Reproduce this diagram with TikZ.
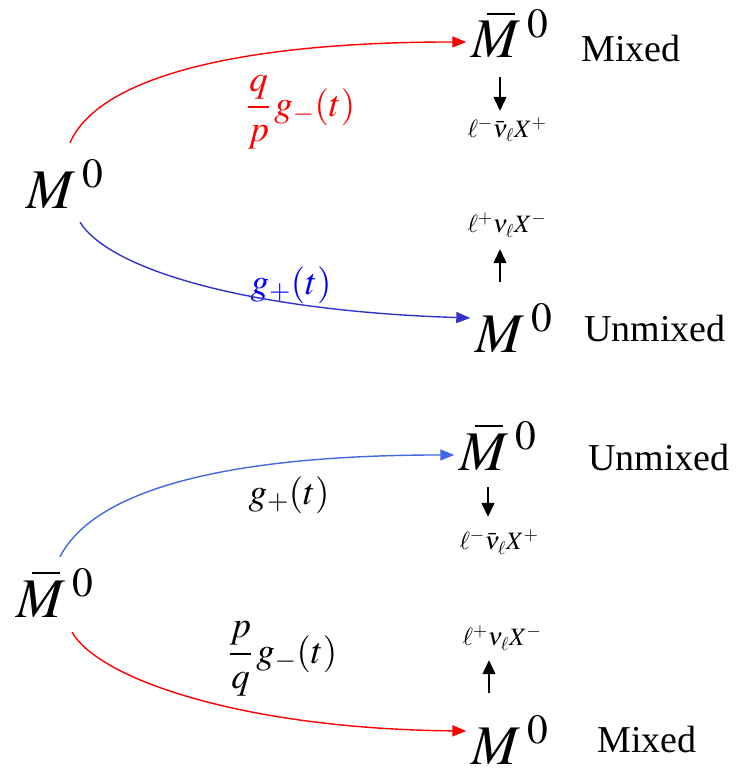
\documentclass[tikz,border=0pt]{standalone}
\usepackage{amsmath}
\usepackage{mathptmx}
\usepackage{fontspec}
\setmainfont{Liberation Serif}
\usepackage{tikz}
\usetikzlibrary{arrows.meta, positioning}
\definecolor{mixred}{RGB}{255,0,0}
\definecolor{darkblue}{RGB}{50,50,205}
\definecolor{lightblue}{RGB}{65,105,225}
\newcommand{\barM}{\mkern5mu\overline{\vphantom{M}\mkern9mu}\mkern-14mu M}

\begin{document}
\begin{tikzpicture}[x=1pt, y=1pt,
  mixarr/.style={-{Triangle[length=14pt,width=11pt]}, line width=1.4pt},
  decarr/.style={-{Triangle[length=14pt,width=13pt]}, line width=1.3pt, black},
  meson/.style={inner sep=5pt, anchor=base, font=\fontsize{56}{60}\selectfont},
  mixlbl/.style={inner sep=0pt, anchor=base, font=\fontsize{38}{40}\selectfont},
  amp/.style={inner sep=0pt, font=\fontsize{37}{40}\selectfont},
  decay/.style={inner sep=0pt, font=\fontsize{25}{27}\selectfont}
]
\useasboundingbox (0,0) rectangle (745,-768);

\node[meson]  (m0a)    at (65,-208)  {$M^{\mkern3mu 0}$};
\node[meson]  (mbarA)  at (510,-58)  {$\barM^{\mkern3mu 0}$};
\node[mixlbl] (mixA)   at (631,-62)  {Mixed};
\node[decay]  (decA)   at (507,-130) {$\ell^-\bar\nu_\ell X^+$};
\node[decay]  (decB)   at (507,-225) {$\ell^+\nu_\ell X^-$};
\node[meson]  (m0b)    at (514,-352) {$M^{\mkern3mu 0}$};
\node[mixlbl] (unmixA) at (655,-341) {Unmixed};

\node[amp, text=mixred] (ampA) at (301,-112) {$\dfrac{q}{p}\,g_-(t)$};
\node[amp, text=blue]   (ampB) at (291,-285) {$g_+(t)$};

\draw[mixarr, mixred] ([xshift=5pt,yshift=12pt]m0a.north) .. controls +(30,68) and +(-220,0) .. ([yshift=-8pt]mbarA.west);
\draw[mixarr, darkblue] ([xshift=15pt,yshift=-9pt]m0a.south) .. controls +(30,-48) and +(-220,7) .. ([yshift=10pt]m0b.west);
\draw[decarr, shorten <=14pt, shorten >=7pt] ([xshift=-10pt]mbarA.south) -- ([xshift=-7pt]decA.north);
\draw[decarr, shorten <=17pt, shorten >=12pt] ([xshift=-14pt]m0b.north) -- ([xshift=-7pt]decB.south);

\node[meson]  (mbarL)  at (55,-617)  {$\barM^{\mkern3mu 0}$};
\node[meson]  (mbarR)  at (498,-470) {$\barM^{\mkern3mu 0}$};
\node[mixlbl] (unmixB) at (659,-470) {Unmixed};
\node[decay]  (decC)   at (499,-542) {$\ell^-\bar\nu_\ell X^+$};
\node[decay]  (decD)   at (502,-638) {$\ell^+\nu_\ell X^-$};
\node[meson]  (m0c)    at (510,-764) {$M^{\mkern3mu 0}$};
\node[mixlbl] (mixB)   at (647,-752) {Mixed};

\node[amp] (ampC) at (289,-495) {$g_+(t)$};
\node[amp] (ampD) at (283,-659) {$\dfrac{p}{q}\,g_-(t)$};

\draw[mixarr, lightblue] ([xshift=5pt,yshift=7pt]mbarL.north) .. controls +(35,68) and +(-225,0) .. ([yshift=-9pt]mbarR.west);
\draw[mixarr, mixred] ([xshift=17pt,yshift=-10pt]mbarL.south) .. controls +(28,-48) and +(-220,2) .. ([yshift=9pt]m0c.west);
\draw[decarr, shorten <=12pt, shorten >=13pt] ([xshift=-10pt]mbarR.south) -- ([xshift=-11pt]decC.north);
\draw[decarr, shorten <=18pt, shorten >=10pt] ([xshift=-21pt]m0c.north) -- ([xshift=-13pt]decD.south);
\end{tikzpicture}
\end{document}
